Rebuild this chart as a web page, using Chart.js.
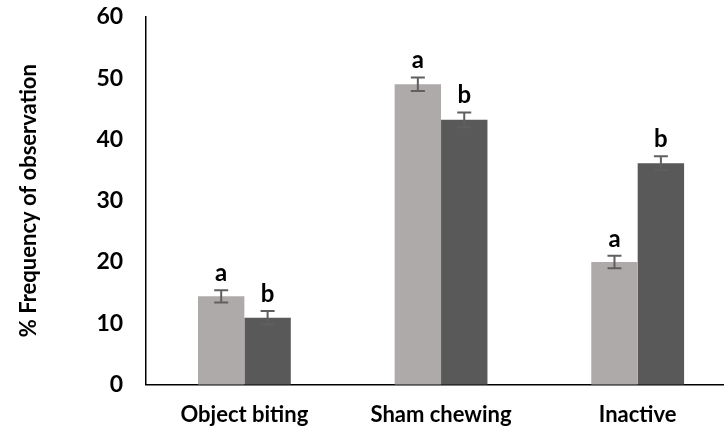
<!DOCTYPE html>
<html>
<head>
<meta charset="utf-8">
<script src="https://cdn.jsdelivr.net/npm/chart.js@4/dist/chart.umd.min.js"></script>
<style>
  html, body { margin: 0; padding: 0; background: #fff; }
  #wrap { width: 724px; height: 430px; }
</style>
</head>
<body>
<div id="wrap"><canvas id="c" width="724" height="430"></canvas></div>
<script>
// Behaviour categories and the two groups' mean frequencies (%)
const categories = ['Object biting', 'Sham chewing', 'Inactive'];
const groupA = [14.4, 49.0, 20.0];
const groupB = [10.9, 43.2, 36.1];
// Standard errors for each mean
const errA = [1.0, 1.1, 1.0];
const errB = [1.1, 1.2, 1.15];
// Significance letters above each bar
const lettersA = ['a', 'a', 'a'];
const lettersB = ['b', 'b', 'b'];
const yTicks = [0, 10, 20, 30, 40, 50, 60];

const FONT = 'Lato, "Liberation Sans", sans-serif';

// The category axis runs a little past the right edge of the canvas
const widenX = {
  id: 'widenX',
  afterLayout(chart) {
    const x = chart.scales.x;
    x.right = chart.width + 12;
    x.width = x.right - x.left;
    x.configure();
  }
};

// Draws error bars and the letter labels on top of each bar
const annotate = {
  id: 'annotate',
  afterDatasetsDraw(chart) {
    const ctx = chart.ctx;
    const y = chart.scales.y;
    const sets = [
      { errs: errA, letters: lettersA },
      { errs: errB, letters: lettersB }
    ];
    sets.forEach((s, di) => {
      const meta = chart.getDatasetMeta(di);
      const vals = chart.data.datasets[di].data;
      meta.data.forEach((bar, i) => {
        const x = bar.x;
        const top = y.getPixelForValue(vals[i] + s.errs[i]);
        const bot = y.getPixelForValue(vals[i] - s.errs[i]);
        ctx.save();
        ctx.strokeStyle = '#5f5f5f';
        ctx.lineWidth = 2;
        ctx.beginPath();
        ctx.moveTo(x, top); ctx.lineTo(x, bot);
        ctx.moveTo(x - 7, top); ctx.lineTo(x + 7, top);
        ctx.moveTo(x - 7, bot); ctx.lineTo(x + 7, bot);
        ctx.stroke();
        ctx.fillStyle = '#000';
        ctx.font = 'bold 24px ' + FONT;
        ctx.textAlign = 'center';
        ctx.textBaseline = 'alphabetic';
        ctx.fillText(s.letters[i], x, top - 9);
        ctx.restore();
      });
    });
  }
};

new Chart(document.getElementById('c'), {
  type: 'bar',
  data: {
    labels: categories,
    datasets: [
      { label: 'A', data: groupA, backgroundColor: '#aeaaaa', categoryPercentage: 0.472, barPercentage: 1.0, clip: false },
      { label: 'B', data: groupB, backgroundColor: '#595959', categoryPercentage: 0.472, barPercentage: 1.0, clip: false }
    ]
  },
  options: {
    responsive: false,
    animation: false,
    devicePixelRatio: 1,
    layout: { padding: { top: 0, right: 0, bottom: -15, left: 16 } },
    plugins: { legend: { display: false }, tooltip: { enabled: false } },
    scales: {
      x: {
        grid: { display: false, drawTicks: false },
        border: { display: true, color: '#000', width: 1.5 },
        ticks: { color: '#000', font: { family: FONT, size: 22, weight: 'bold' }, padding: 17 }
      },
      y: {
        min: 0, max: 60,
        afterBuildTicks(scale) { scale.ticks = yTicks.map(v => ({ value: v })); },
        // hidden tick marks only reserve the gap between labels and the axis line
        grid: { display: false, drawTicks: true, tickLength: 20 },
        border: { display: true, color: '#000', width: 1.5 },
        ticks: { color: '#000', font: { family: FONT, size: 23, weight: 'bold' }, padding: 3 },
        title: {
          display: true,
          text: '% Frequency of observation',
          color: '#000',
          font: { family: FONT, size: 22, weight: 'bold' },
          padding: { top: 0, bottom: 51 }
        }
      }
    }
  },
  plugins: [widenX, annotate]
});
</script>
</body>
</html>
